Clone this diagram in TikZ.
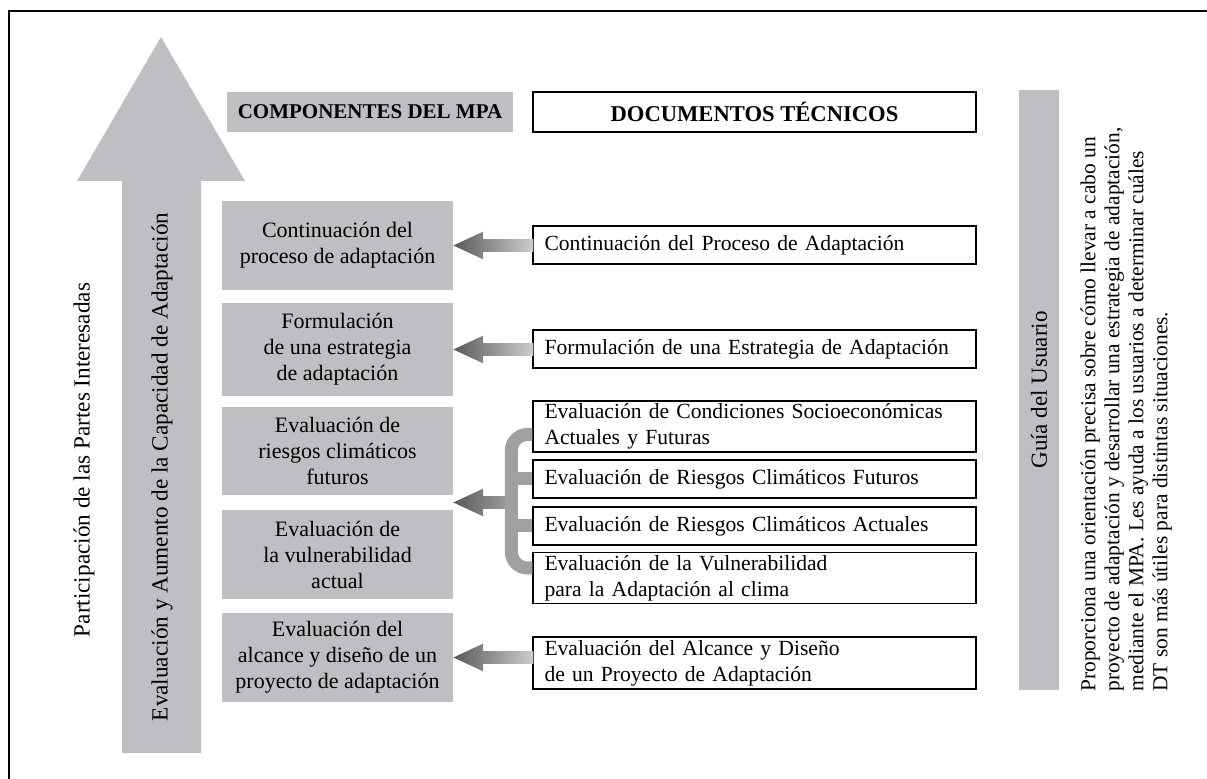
\documentclass[tikz,border=0pt]{standalone}
\usepackage{fontspec}
\setmainfont{Liberation Serif}
\usetikzlibrary{shapes.arrows,calc}
\definecolor{boxgray}{RGB}{190,191,194}
\definecolor{arrdark}{RGB}{90,90,92}
\definecolor{arrlight}{RGB}{205,205,207}
\definecolor{brkgray}{RGB}{160,160,162}
\tikzset{
  comp/.style={fill=boxgray,minimum width=115.5pt,minimum height=44.5pt,align=center,inner sep=0pt},
  doc/.style={draw,line width=0.7pt,minimum width=221.5pt,minimum height=19pt,text width=210pt,inner xsep=5.75pt,inner ysep=0pt,align=left,font=\fontsize{10.8}{13}\selectfont},
  head/.style={minimum height=20pt,inner sep=0pt,font=\fontsize{10.5}{12}\selectfont\bfseries},
  docarrow/.style={single arrow,shape border rotate=180,minimum width=13.5pt,minimum height=40pt,single arrow head extend=3.75pt,single arrow tip angle=50,inner xsep=0pt,inner ysep=3pt,outer sep=0pt,left color=arrdark,right color=arrlight},
  bracket/.style={line width=6.5pt,brkgray,rounded corners=8pt},
  sidetext/.style={rotate=90,font=\fontsize{11.6}{13}\selectfont}
}
\begin{document}
\begin{tikzpicture}[x=0.5pt,y=-0.5pt,every node/.style={font=\fontsize{11}{13}\selectfont}]
  \useasboundingbox (0,0) rectangle (1207,779);
  \draw[line width=1pt] (9,779) -- (9,11) -- (1207,11);
  \fill[boxgray] (122,753) -- (122,181) -- (77,181) -- (161,37) -- (245,181) -- (201,181) -- (201,753) -- cycle;
  \node[sidetext] (part) at (84,460) {Participación de las Partes Interesadas};
  \node[sidetext] (capac) at (162,467) {Evaluación y Aumento de la Capacidad de Adaptación};
  \node[head,fill=boxgray,minimum width=143pt] (comphead) at (370,112) {COMPONENTES DEL MPA};
  \node[head,draw,line width=0.7pt,minimum width=221.5pt,font=\fontsize{11.3}{12}\selectfont\bfseries] (dochead) at (754.5,112) {DOCUMENTOS TÉCNICOS};
  \node[comp] (c5) at (337.5,245.5) {Continuación del\\proceso de adaptación};
  \node[comp,minimum height=46.5pt] (c4) at (337.5,349.5) {Formulación\\de una estrategia\\de adaptación};
  \node[comp,minimum height=44pt] (c3) at (337.5,451) {Evaluación de\\riesgos climáticos\\futuros};
  \node[comp] (c2) at (337.5,554.5) {Evaluación de\\la vulnerabilidad\\actual};
  \node[comp] (c1) at (337.5,657.5) {Evaluación del\\alcance y diseño de un\\proyecto de adaptación};
  \node[doc] (d5) at (754.5,245) {Continuación del Proceso de Adaptación};
  \node[doc] (d4) at (754.5,349) {Formulación de una Estrategia de Adaptación};
  \node[doc,minimum height=25.5pt] (s1) at (754.5,426.5) {Evaluación de Condiciones Socioeconómicas\\Actuales y Futuras};
  \node[doc] (s2) at (754.5,479) {Evaluación de Riesgos Climáticos Futuros};
  \node[doc] (s3) at (754.5,526) {Evaluación de Riesgos Climáticos Actuales};
  \node[doc,minimum height=25.5pt] (s4) at (754.5,578) {Evaluación de la Vulnerabilidad\\para la Adaptación al clima};
  \node[doc,minimum height=26pt] (d1) at (754.5,663) {Evaluación del Alcance y Diseño\\de un Proyecto de Adaptación};
  \node[docarrow,anchor=tip] (a5) at (c5.east) {};
  \node[docarrow,anchor=tip] (a4) at (c4.east) {};
  \node[docarrow,anchor=tip] (a1) at (c1.east) {};
  \node[docarrow,anchor=tip,minimum height=29pt,right color=brkgray] (ab) at ($(c3.south east)!0.5!(c2.north east)$) {};
  \draw[bracket] ([yshift=-4pt]s1.west) -| (ab.tail) |- ([yshift=5pt]s4.west);
  \draw[bracket] (ab.tail |- s2.west) -- (s2.west);
  \draw[bracket] (ab.tail |- s3.west) -- (s3.west);
  \node[fill=boxgray,rotate=90,minimum width=300pt,minimum height=20pt,inner sep=0pt,font=\fontsize{11.5}{13}\selectfont] (guia) at (1039,390) {Guía del Usuario};
  \node[rotate=90,anchor=north west,align=left,inner sep=0pt,font=\fontsize{10.7}{12}\selectfont] (desc) at (1080,692) {Proporciona una orientación precisa sobre cómo llevar a cabo un\\proyecto de adaptación y desarrollar una estrategia de adaptación,\\mediante el MPA. Les ayuda a los usuarios a determinar cuáles\\DT son más útiles para distintas situaciones.};
\end{tikzpicture}
\end{document}
